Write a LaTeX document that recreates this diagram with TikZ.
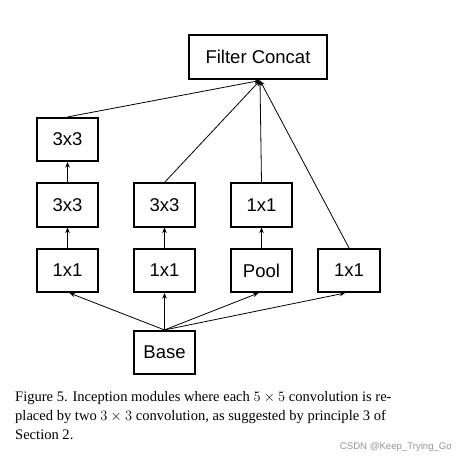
\documentclass[tikz,border=0pt]{standalone}
\usepackage{fontspec}
\setmainfont{Liberation Serif}
\newfontfamily\arialf{Liberation Sans}
\usetikzlibrary{arrows.meta,calc}
\begin{document}
\begin{tikzpicture}[x=1pt,y=-1pt,
  box/.style={draw,line width=1.6pt,minimum width=61.5pt,minimum height=43.5pt,inner sep=0pt,
    font=\arialf\fontsize{18.5}{20}\selectfont},
  conn/.style={line width=0.8pt,-{Stealth[length=5.5pt,width=4.5pt]}},
  captxt/.style={anchor=base west,inner sep=0pt,font=\fontsize{14.55}{19}\selectfont}]
\useasboundingbox (0,0) rectangle (475,462);
\node[box,minimum width=138.5pt] (concat) at (258,57) {Filter Concat};
\coordinate (cc) at (260,80.5);
\node[box] (t1) at (67.5,139.5) {3x3};
\node[box] (m1) at (67.5,205) {3x3};
\node[box] (m2) at (164.5,205) {3x3};
\node[box] (m3) at (261.5,205) {1x1};
\node[box] (b1) at (67.5,270.5) {1x1};
\node[box] (b2) at (164.5,270.5) {1x1};
\node[box] (b3) at (261.5,270.5) {Pool};
\node[box] (b4) at (349,270.5) {1x1};
\node[box] (base) at (164.5,352.5) {Base};
% from base
\draw[conn] (base.north) -- ($(b1.south)+(2,0)$);
\draw[conn] (base.north) -- (b2.south);
\draw[conn] (base.north) -- ($(b3.south)+(-3,0)$);
\draw[conn] (base.north) -- ($(b4.south)+(-4,0)$);
% verticals
\draw[conn] (b1.north) -- (m1.south);
\draw[conn] (m1.north) -- (t1.south);
\draw[conn] (b2.north) -- (m2.south);
\draw[conn] (b3.north) -- (m3.south);
% to concat
\draw[conn] (t1.north) -- (cc);
\draw[conn] (m2.north) -- (cc);
\draw[conn] (m3.north) -- (cc);
\draw[conn] (b4.north) -- (cc);
% caption
\node[captxt] (cap1) at (15,402) {Figure 5. Inception modules where each $5\times5$ convolution is re-};
\node[captxt] (cap2) at (15,421) {placed by two $3\times3$ convolution, as suggested by principle 3 of};
\node[captxt] (cap3) at (15,440) {Section 2.};
\node[anchor=base east,inner sep=0pt,text=black!42,font=\arialf\fontsize{9.6}{11}\selectfont] (wm) at (452,450) {CSDN @Keep\_Trying\_Go};
\end{tikzpicture}
\end{document}
